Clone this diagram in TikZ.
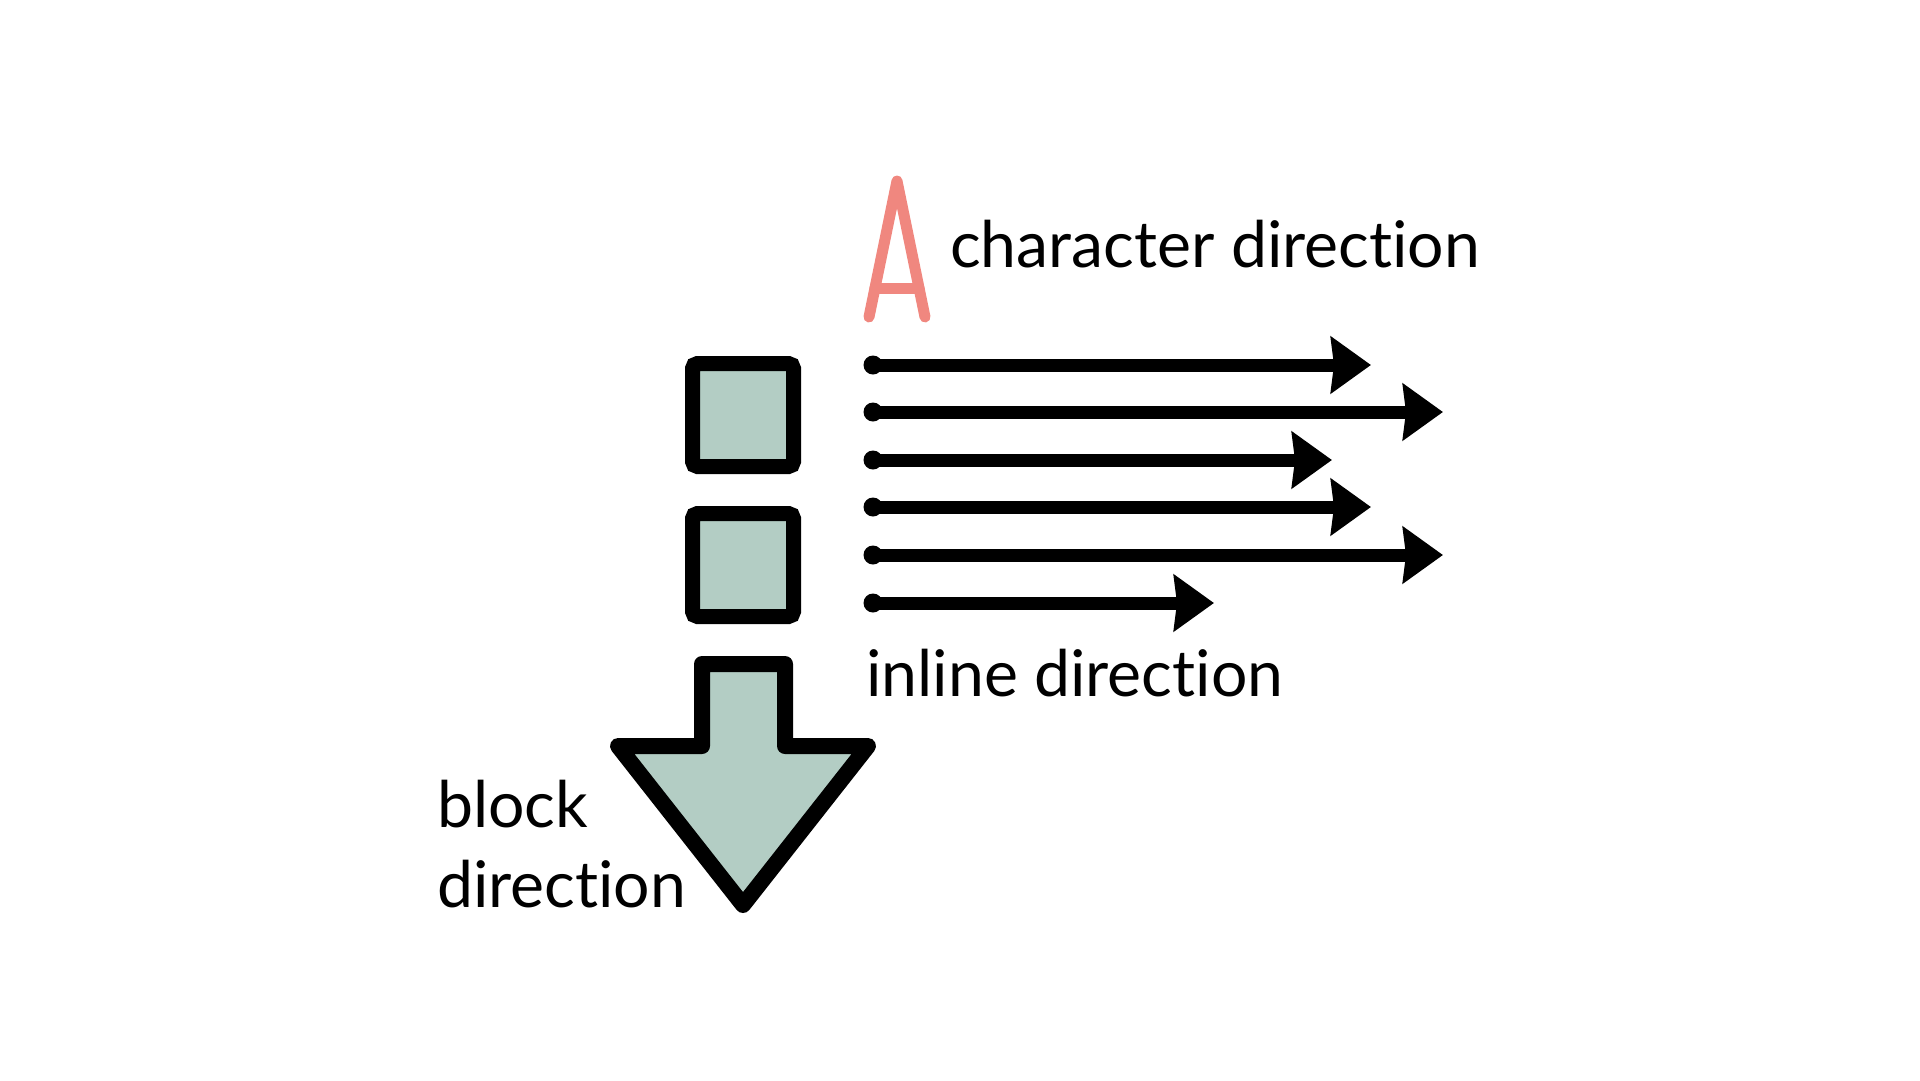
\documentclass[tikz,border=0pt]{standalone}
\usepackage{fontspec}
\setmainfont{Lato}[Ligatures={NoCommon}]
\usetikzlibrary{arrows.meta}
\definecolor{boxgreen}{HTML}{B3CDC4}
\definecolor{salmon}{HTML}{F0877F}
\begin{document}
\begin{tikzpicture}[x=1pt,y=-1pt,
  lbl/.style={anchor=base west, inner sep=0pt, text=black, font=\fontsize{64.3}{77}\selectfont},
  blockbox/.style={draw=black, fill=boxgreen, line width=15pt, rounded corners=5pt,
    minimum width=101pt, minimum height=103pt, inner sep=0pt},
  inarrow/.style={line width=13pt, draw=black, -{Stealth[length=40pt,width=56pt,inset=3pt]}},
  blob/.style={fill=black},
  bigarrow/.style={draw=black, fill=boxgreen, line width=16pt, line join=round},
  letterA/.style={draw=salmon, line width=11pt, line cap=round, line join=round}
]
\useasboundingbox (0,0) rectangle (1920,1080);

% letter A
\draw[letterA] (869,317) -- (897,181) -- (925,317);
\draw[letterA] (875,288) -- (919,288);

% boxes
\node[blockbox] (box1) at (743,415) {};
\node[blockbox] (box2) at (743,565) {};

% inline arrows
\coordinate (s1) at (873,365); \coordinate (e1) at (1371,365);
\coordinate (s2) at (873,412); \coordinate (e2) at (1443,412);
\coordinate (s3) at (873,460); \coordinate (e3) at (1332,460);
\coordinate (s4) at (873,507); \coordinate (e4) at (1371,507);
\coordinate (s5) at (873,555); \coordinate (e5) at (1443,555);
\coordinate (s6) at (873,603); \coordinate (e6) at (1214,603);
\foreach \i in {1,...,6} {
  \fill[blob] (s\i) circle (9.5pt);
  \draw[inarrow] (s\i) -- (e\i);
}

% big block arrow
\draw[bigarrow] (702,664) -- (785,664) -- (785,746) -- (868,746) -- (743,905)
  -- (618,746) -- (702,746) -- cycle;

% labels
\node[lbl] (chardir) at (950,267) {character direction};
\node[lbl] (inldir) at (866,696) {inline direction};
\node[lbl] (blk) at (437,827) {block};
\node[lbl] (blkdir) at (437,907) {direction};
\end{tikzpicture}
\end{document}
